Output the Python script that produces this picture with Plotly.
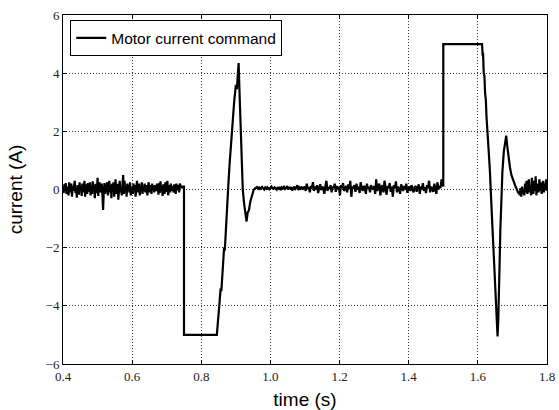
import numpy as np
import plotly.graph_objects as go

# ---------------- data ----------------
# noisy idle segment before the first command (0.400 s .. 0.748 s)
seg_a_span = [0.400, 0.748]
seg_a_vals = [
    0.05, -0.12, 0.18, -0.05, 0.22, -0.15, 0.1, 0.02, -0.2, 0.25, -0.1, 0.08, 0.2, -0.25, 0.12, -0.05, 0.15, 0.3, -0.12, 0.0,
    -0.28, 0.15, 0.05, -0.18, 0.25, -0.05, 0.12, -0.22, 0.2, 0.0, -0.1, 0.3, -0.25, 0.18, 0.05, -0.15, 0.22, 0.1, -0.08, 0.25,
    -0.2, 0.1, -0.15, 0.28, -0.05, 0.15, -0.3, 0.2, 0.05, -0.12, 0.4, -0.22, 0.1, 0.25, -0.1, 0.05, 0.2, -0.18, -0.7, -0.05,
    0.22, -0.15, 0.1, 0.1, 0.25, -0.2, 0.05, 0.3, -0.1, 0.15, -0.3, 0.2, 0.0, 0.25, -0.25, 0.1, 0.35, -0.15, 0.05, 0.2,
    -0.35, 0.15, 0.3, -0.1, 0.05, -0.2, 0.25, 0.5, -0.15, 0.3, -0.05, 0.1, -0.25, 0.2, 0.0, 0.15, -0.1, 0.25, -0.2, 0.05,
    0.1, -0.15, 0.2, -0.05, 0.15, -0.25, 0.1, 0.3, -0.1, 0.05, 0.2, -0.2, 0.1, 0.0, 0.25, -0.15, 0.1, -0.05, 0.2, -0.1,
    0.15, 0.05, -0.2, 0.1, 0.25, -0.1, 0.05, 0.15, -0.15, 0.2, 0.0, 0.1, -0.1, 0.15, 0.05, -0.05, 0.2, 0.1, -0.18, 0.22,
    -0.12, 0.28, -0.05, 0.12, -0.22, 0.18, 0.02, -0.15, 0.25, -0.08, 0.1, 0.3, -0.2, 0.05, 0.15, -0.1, 0.2, -0.05, 0.12, 0.08,
    -0.1, 0.18, 0.05, -0.15, 0.2, -0.02, 0.15, 0.05, -0.1, 0.2, 0.1, 0.05, 0.12, 0.08, 0.1,
]

# first command: step to -5 A and controller response
event1_t = [0.750, 0.750, 0.845, 0.852, 0.856, 0.858, 0.862, 0.866, 0.868, 0.872, 0.875, 0.878,
            0.882, 0.886, 0.890, 0.895, 0.900, 0.903, 0.906, 0.908, 0.911, 0.914, 0.917, 0.920,
            0.924, 0.928, 0.931, 0.934, 0.938, 0.942, 0.947, 0.952, 0.956]
event1_v = [0.10, -5.00, -5.00, -4.00, -3.40, -3.50, -2.70, -2.00, -2.10, -1.00, -0.40, 0.10,
            0.90, 1.60, 2.30, 3.00, 3.60, 3.45, 4.00, 4.35, 3.20, 2.00, 0.80, 0.00,
            -0.50, -0.90, -1.10, -0.80, -0.70, -0.40, -0.20, 0.00, 0.05]

# quiet segment between commands (0.958 s .. 1.498 s)
seg_b_span = [0.958, 1.498]
seg_b_vals = [
    0.05, 0.08, 0.03, 0.07, 0.02, 0.06, 0.09, 0.04, 0.0, 0.07, 0.03, 0.08, 0.05, 0.01, 0.06, 0.1, 0.04, 0.02, 0.07, 0.05,
    0.0, 0.08, 0.03, 0.06, -0.02, 0.07, 0.04, 0.09, 0.02, 0.05, 0.12, 0.0, 0.06, 0.03, 0.08, -0.03, 0.05, 0.1, 0.02, 0.06,
    0.15, -0.02, 0.07, 0.03, 0.1, 0.0, 0.05,
    0.1, -0.05, 0.2, 0.02, 0.08, -0.1, 0.12, 0.05, 0.25, -0.05, 0.1, 0.0, 0.15, -0.12, 0.08, 0.18, -0.02, 0.1, 0.05, -0.15,
    0.12, 0.3, -0.05, 0.08, 0.02, 0.15, -0.1, 0.1, 0.05, 0.2, -0.08, 0.12, 0.0, 0.1, -0.2, 0.15, 0.05, 0.22, -0.05, 0.08,
    0.12, -0.1, 0.18, 0.02, 0.3, -0.25, 0.1, 0.05, 0.15, -0.08, 0.2, 0.0, 0.1, -0.12, 0.25, 0.05, -0.05, 0.12, 0.08, -0.15,
    0.2, 0.02, 0.1, -0.1, 0.15, 0.05, 0.0,
    0.12, -0.15, 0.35, -0.05, 0.1, 0.2, -0.2, 0.08, 0.15, -0.1, 0.3, 0.0, -0.18, 0.12, 0.05, 0.22, -0.08, 0.1, -0.25, 0.15,
    0.05, 0.28, -0.1, 0.1, 0.02, -0.15, 0.18, 0.08, -0.05, 0.12, 0.0, 0.2, -0.12, 0.05, 0.1, -0.05, 0.15, 0.02, -0.1, 0.08,
    0.12, -0.08, 0.05, 0.18, -0.15, 0.1, 0.0, 0.22, -0.05, 0.08, -0.12, 0.15, 0.05, 0.3, -0.1, 0.1, 0.02, -0.08, 0.2, 0.05,
    -0.15, 0.25, 0.0, 0.12, 0.05, 0.35, 0.1,
]

# second command: step to +5 A and controller response
event2_t = [1.500, 1.500, 1.612, 1.614, 1.615, 1.617, 1.619, 1.621, 1.623, 1.625, 1.627, 1.629,
            1.632, 1.635, 1.638, 1.641, 1.645, 1.649, 1.652, 1.655, 1.657, 1.659, 1.661, 1.663,
            1.665, 1.668, 1.671, 1.675, 1.679, 1.682, 1.685, 1.689, 1.693, 1.697, 1.701, 1.705,
            1.709, 1.713, 1.716]
event2_v = [0.10, 5.00, 5.00, 4.60, 4.70, 4.00, 3.90, 3.30, 3.10, 2.50, 2.00, 1.90,
            1.20, 0.60, 0.00, -1.00, -2.00, -3.00, -4.00, -4.70, -5.05, -4.50, -3.80, -2.50,
            -1.40, -0.20, 0.60, 1.30, 1.70, 1.85, 1.50, 1.00, 0.75, 0.50, 0.35, 0.20,
            0.10, 0.00, -0.10]

# noisy tail (1.719 s .. 1.800 s)
seg_c_span = [1.719, 1.800]
seg_c_vals = [-0.1, -0.2, 0.05, -0.25, 0.1, -0.15, 0.0, -0.2, 0.2, -0.1, 0.3, -0.15, 0.05, 0.35,
              -0.1, 0.1, -0.2, 0.4, 0.0, -0.15, 0.3, -0.05, 0.45, -0.2, 0.15, 0.2, -0.1, 0.35,
              -0.05, 0.25, -0.15, 0.1, 0.3, -0.1, 0.2, 0.0, 0.35, -0.05]

x_ticks = [0.4, 0.6, 0.8, 1.0, 1.2, 1.4, 1.6, 1.8]
x_labels = ["0.4", "0.6", "0.8", "1.0", "1.2", "1.4", "1.6", "1.8"]
y_ticks = [-6, -4, -2, 0, 2, 4, 6]
y_labels = ["\u22126", "\u22124", "\u22122", "0", "2", "4", "6"]

# ---------------- assemble the time series ----------------
def seg_time(span, vals):
    return list(np.linspace(span[0], span[1], len(vals)))

t = (seg_time(seg_a_span, seg_a_vals) + event1_t + seg_time(seg_b_span, seg_b_vals)
     + event2_t + seg_time(seg_c_span, seg_c_vals))
v = seg_a_vals + event1_v + seg_b_vals + event2_v + seg_c_vals

fig = go.Figure()
fig.add_trace(go.Scatter(
    x=t, y=v, mode="lines", name="Motor current command",
    line=dict(color="black", width=2.2),
))

tick_font = dict(family="Liberation Serif, DejaVu Serif, serif", size=13, color="#222")
axis_common = dict(
    showline=True, linecolor="black", linewidth=1, mirror="allticks",
    ticks="inside", ticklen=4, tickcolor="black", tickwidth=1,
    showgrid=True, gridcolor="#333", gridwidth=1, griddash="1px,2px",
    zeroline=False, tickfont=tick_font, automargin=False,
)

fig.update_xaxes(
    range=[0.4, 1.8], tickvals=x_ticks, ticktext=x_labels,
    title=dict(text="time (s)", font=dict(family="Liberation Sans, Arial, sans-serif", size=19, color="black"), standoff=10),
    **axis_common,
)
fig.update_yaxes(
    range=[-6, 6], tickvals=y_ticks, ticktext=y_labels,
    title=dict(text="current (A)", font=dict(family="Liberation Sans, Arial, sans-serif", size=19, color="black"), standoff=17),
    **axis_common,
)

fig.update_layout(
    width=559, height=410,
    margin=dict(l=63, r=12, t=15, b=46),
    paper_bgcolor="white", plot_bgcolor="white",
    showlegend=True,
    legend=dict(
        x=0.015, y=0.985, xanchor="left", yanchor="top",
        bgcolor="white", bordercolor="black", borderwidth=1,
        font=dict(family="Liberation Sans, Arial, sans-serif", size=15.5, color="black"),
    ),
)

fig.write_html("out.html")
